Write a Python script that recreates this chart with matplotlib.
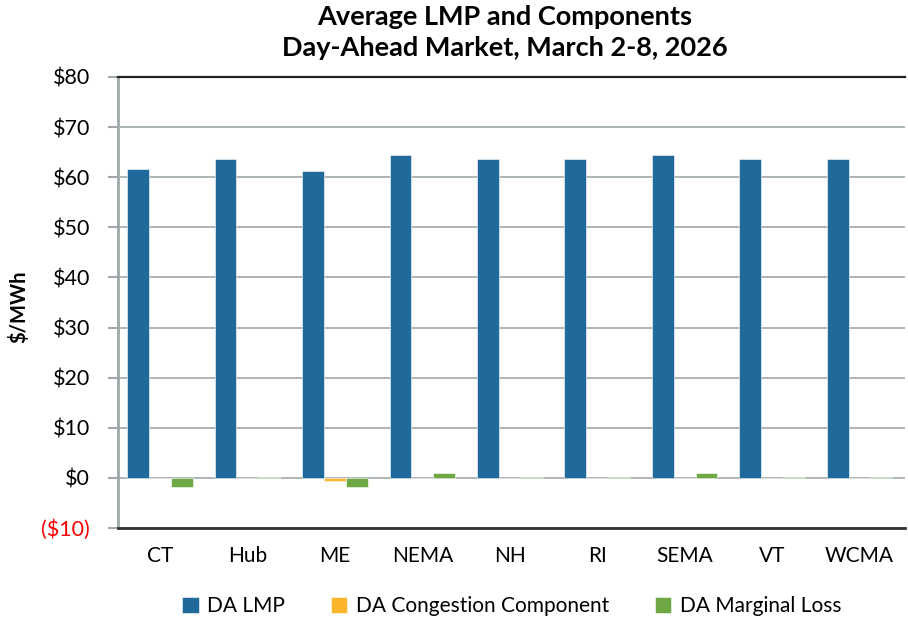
import numpy as np
import matplotlib
matplotlib.use('Agg')
import matplotlib.pyplot as plt
from matplotlib.ticker import FuncFormatter

plt.rcParams['font.family'] = ['Lato', 'DejaVu Sans']

zones = ['CT', 'Hub', 'ME', 'NEMA', 'NH', 'RI', 'SEMA', 'VT', 'WCMA']
da_lmp = [61.6, 63.6, 61.2, 64.4, 63.6, 63.6, 64.4, 63.6, 63.6]
da_congestion = [0.05, 0.05, -0.6, 0.05, 0.05, 0.05, 0.05, 0.05, 0.05]
da_loss = [-1.8, 0.1, -1.8, 0.9, 0.1, 0.1, 0.9, 0.1, 0.1]

series = [
    ('DA LMP', da_lmp, '#1f6a9b'),
    ('DA Congestion Component', da_congestion, '#fbb52b'),
    ('DA Marginal Loss', da_loss, '#6fa843'),
]

fig = plt.figure(figsize=(9.08, 6.18), dpi=100)
ax = fig.add_axes([118 / 908, 1 - 528 / 618, (905 - 118) / 908, (528 - 77) / 618])

x = np.arange(len(zones))
width = 0.25
for i, (name, vals, color) in enumerate(series):
    ax.bar(x + (i - 1) * width - 0.02, vals, width, color=color, label=name,
           edgecolor='white', linewidth=0.4, zorder=3)

ax.set_xlim(-0.5, len(zones) - 0.5)
ax.set_ylim(-10, 80)
ax.set_yticks(np.arange(-10, 81, 10))

def money(v, pos):
    v = int(round(v))
    return f'(${-v})' if v < 0 else f'${v}'

ax.yaxis.set_major_formatter(FuncFormatter(money))
ax.set_xticks(x - 0.02)
ax.set_xticklabels(zones)
ax.tick_params(axis='x', length=0, pad=13, labelsize=15)
ax.tick_params(axis='y', length=7, color='#a0a8aa', width=1.5, pad=13, labelsize=15.5)
for lbl in ax.get_yticklabels():
    if lbl.get_text().startswith('('):
        lbl.set_color('red')

ax.grid(axis='y', color='#a0a8aa', linewidth=1.2, zorder=1)
ax.set_axisbelow(True)

ax.spines['right'].set_visible(False)
ax.spines['left'].set_color('#a0a8aa')
ax.spines['left'].set_linewidth(2)
ax.spines['top'].set_color('#222222')
ax.spines['top'].set_linewidth(1.6)
ax.spines['bottom'].set_color('#333333')
ax.spines['bottom'].set_linewidth(2)

ax.set_ylabel('$/MWh', fontsize=14.5, fontweight='bold')
ax.yaxis.set_label_coords(-0.112, 0.49)

fig.text(505 / 908, 1 - 5 / 618,
         'Average LMP and Components\nDay-Ahead Market, March 2-8, 2026',
         ha='center', va='top', fontsize=19.5, fontweight='bold', linespacing=1.35)

leg = ax.legend(loc='upper center', bbox_to_anchor=(0.5, -0.11), ncol=3,
                frameon=False, fontsize=15, handlelength=0.8, handleheight=0.8,
                handletextpad=0.4, columnspacing=2.2)

fig.savefig('out.png', dpi=100)
